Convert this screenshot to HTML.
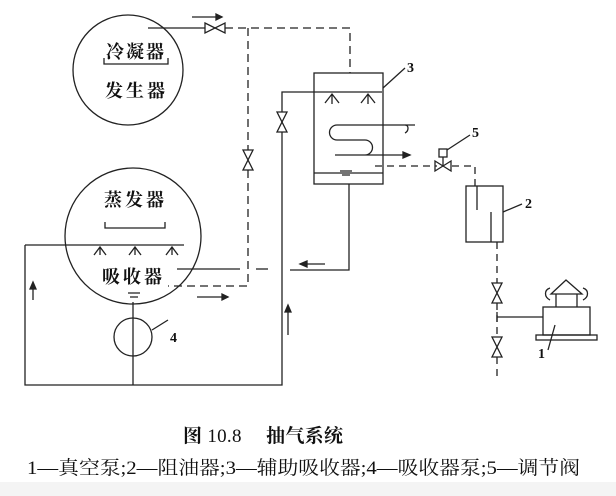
<!DOCTYPE html>
<html><head><meta charset="utf-8"><style>
html,body{margin:0;padding:0;background:#fff}
svg{display:block}
text{font-family:"Liberation Serif","Noto Serif CJK SC","Noto Sans CJK SC",serif;fill:#111}
</style></head><body>
<svg width="616" height="496" viewBox="0 0 616 496" xmlns="http://www.w3.org/2000/svg">
<rect x="0" y="482" width="616" height="14" fill="#f4f4f4"/>
<g stroke="#222" stroke-width="1.3" fill="none">
<circle cx="128" cy="70" r="55"/>
<path d="M104 58 v6 h64 v-6"/>
<path d="M148 28 H205"/>
<path d="M225 28 H350 V73" stroke-dasharray="8,5"/>
<path d="M205 23 L225 33 V23 L205 33 Z"/>
<path d="M192 17 H222"/><path d="M222 17 l-6 -3 v6 z" fill="#222"/>
<path d="M248 28 V150 M248 170 V286 H168" stroke-dasharray="8,5"/>
<path d="M243 150 L253 150 L243 170 L253 170 Z"/>
<path d="M197 297 H228"/><path d="M228 297 l-6 -3 v6 z" fill="#222"/>
<circle cx="133" cy="236" r="68"/>
<path d="M105 222 v6 h60 v-6"/>
<path d="M25 245 H184"/>
<path d="M100 247 v8 M94 255 l6 -8 l6 8 M135 247 v8 M129 255 l6 -8 l6 8 M172 247 v8 M166 255 l6 -8 l6 8"/>
<path d="M177 269 H240"/>
<path d="M256 269 H268" />
<path d="M128 293 h12 M130 297 h8"/>
<circle cx="133" cy="337" r="19"/>
<path d="M133 302 V385"/>
<path d="M152 330 L168 320"/>
<path d="M25 245 V385 H282 V92 H382"/>
<path d="M277 112 L287 112 L277 132 L287 132 Z" fill="#fff"/>
<path d="M33 300 V285"/><path d="M33 282 l-3 7 h6 z" fill="#222"/>
<path d="M288 335 V310"/><path d="M288 305 l-3 7 h6 z" fill="#222"/>
<rect x="314" y="73" width="69" height="111"/>
<path d="M314 173 H383"/>
<path d="M340 171 h12 M342 175 h8"/>
<path d="M332 94 v10 M325 103 l7 -9 l7 9 M368 94 v10 M361 103 l7 -9 l7 9"/>
<path d="M383 88 L405 68"/>
<path d="M415 125 H337 a7.5 7.5 0 0 0 0 15 H365 a7.5 7.5 0 0 1 0 15 H335 M335 155 H410"/>
<path d="M405 125 c4 0 4 6 0 8"/>
<path d="M410 155 l-7 -3 v6 z" fill="#222"/>
<path d="M349 184 V270 H290"/>
<path d="M300 264 H325"/><path d="M300 264 l7 -3 v6 z" fill="#222"/>
<path d="M375 166 H437 M452 166 H475 V186" stroke-dasharray="7,5"/>
<path d="M435 161 L451 171 V161 L435 171 Z"/>
<path d="M443 166 V157"/><rect x="439" y="149" width="8" height="8"/>
<path d="M447 150 L470 135"/>
<rect x="466" y="186" width="37" height="56"/>
<path d="M477 186 V210 M491 212 V242"/>
<path d="M503 212 L522 204"/>
<path d="M497 242 V283 M497 303 V337 M497 357 V380" stroke-dasharray="7,5"/>
<path d="M492 283 L502 283 L492 303 L502 303 Z"/>
<path d="M492 337 L502 337 L492 357 L502 357 Z"/>
<path d="M497 312 V322 M497 317 H543"/>
<rect x="543" y="307" width="47" height="28"/>
<rect x="536" y="335" width="61" height="5"/>
<path d="M556 307 V294 H577 V307 M551 294 L566 280 L582 294 Z"/>
<path d="M550 300 c-6 -3 -6 -10 0 -12 M583 300 c6 -3 6 -10 0 -12"/>
<path d="M555 325 L548 350"/>
</g>
<g font-size="18" font-weight="bold">
<text x="106" y="58" textLength="58">冷凝器</text>
<text x="105" y="97" textLength="60">发生器</text>
<text x="104" y="206" textLength="60">蒸发器</text>
<text x="102" y="283" textLength="60">吸收器</text>
</g>
<g font-size="14" font-weight="bold">
<text x="170" y="342">4</text>
<text x="407" y="72">3</text>
<text x="472" y="137">5</text>
<text x="525" y="208">2</text>
<text x="538" y="358">1</text>
</g>
<text x="183" y="442" font-size="19" font-weight="bold" textLength="160">图 <tspan font-weight="normal">10.8</tspan>　 抽气系统</text>
<text x="27" y="474" font-size="19" textLength="553" lengthAdjust="spacingAndGlyphs">1—真空泵;2—阻油器;3—辅助吸收器;4—吸收器泵;5—调节阀</text>
</svg>
</body></html>
